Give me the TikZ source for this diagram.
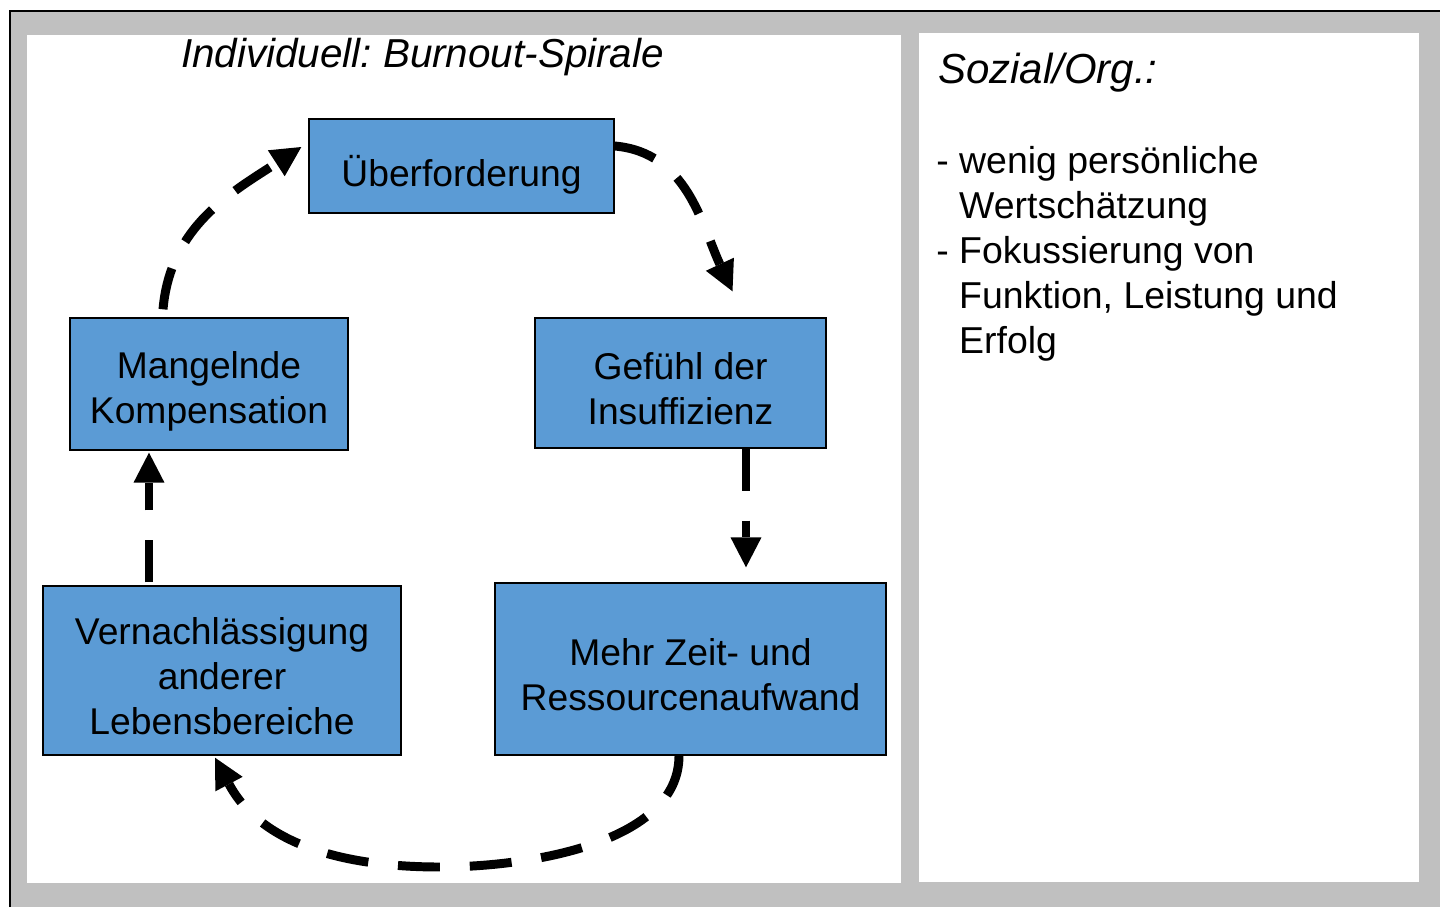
\documentclass[tikz,border=0pt]{standalone}
\usepackage{fontspec}
\setmainfont{Liberation Sans}
\usetikzlibrary{shapes, arrows.meta, positioning, calc}
\definecolor{boxblue}{HTML}{5B9BD5}
\definecolor{framegrey}{HTML}{C0C0C0}
\newcommand{\bstrut}{\rule[-2pt]{0pt}{25.6pt}}
\frenchspacing
\tikzstyle{stage} = [
    rectangle,
    draw=black,
    line width=0.8pt,
    fill=boxblue,
    inner sep=0pt,
    align=center,
    font=\fontsize{21.2}{25.6}\selectfont
]
\tikzstyle{cyclearrow} = [
    line width=5.1pt,
    dash pattern=on 23.9pt off 17pt,
    -{Triangle[width=17.6pt, length=17pt, line width=0pt]}
]
\begin{document}
\begin{tikzpicture}[x=0.02cm, y=0.02cm]
    \useasboundingbox (0,0) rectangle (1440,-907);
    % frame and panels
    \fill[framegrey] (10,-11) rectangle (1440,-907);
    \draw[line width=1.1pt] (10,-907) -- (10,-11) -- (1440,-11);
    \fill[white] (27,-35) rectangle (901,-883);
    \fill[white] (919,-33) rectangle (1419,-882);

    \node[anchor=base, font=\fontsize{23}{27}\selectfont\itshape] (title) at (422.5,-67) {Individuell: Burnout-Spirale};

    \node[stage, minimum width=6.1cm, minimum height=1.88cm] (ueber) at (461.5,-166) {\rule{0pt}{28pt}Überforderung};
    \node[stage, minimum width=5.82cm, minimum height=2.6cm] (gefuehl) at (680.5,-383) {\bstrut Gefühl der\\Insuffizienz\bstrut};
    \node[stage, minimum width=7.82cm, minimum height=3.44cm] (mehr) at (690.5,-669) {\bstrut Mehr Zeit- und\\Ressourcenaufwand\bstrut};
    \node[stage, minimum width=7.16cm, minimum height=3.38cm] (vernach) at (222,-670.5) {\bstrut Vernachlässigung\\anderer\\Lebensbereiche\bstrut};
    \node[stage, minimum width=5.56cm, minimum height=2.64cm] (mangel) at (209,-384) {\bstrut Mangelnde\\Kompensation};

    \coordinate (low) at (440,-867);
    \draw[cyclearrow] ($(ueber.east)+(0,20)$) to[out=-5, in=115] ($(gefuehl.north)+(52,26)$);
    \draw[cyclearrow] ($(gefuehl.south)+(65.5,0)$) -- ($(mehr.north)+(55.5,15)$);
    \draw[cyclearrow] ($(mehr.south)+(-11.5,0)$) to[out=-90, in=0, looseness=0.85] (low) to[out=180, in=-62] ($(vernach.south)+(-7,-2)$);
    \draw[cyclearrow] ($(vernach.north)+(-73,3)$) -- ($(mangel.south)+(-60,-2)$);
    \draw[cyclearrow] ($(mangel.north)+(-46,8)$) to[out=85, in=-147] ($(ueber.west)+(-7,19)$);

    % right panel
    \node[anchor=base west, font=\fontsize{23.9}{28}\selectfont\itshape] (sozial) at (932,-83) {Sozial/Org.:};
    \node[anchor=north west, inner sep=0pt, align=left, font=\fontsize{21.3}{25.6}\selectfont] (liste) at (936,-132)
        {\bstrut - wenig persönliche\\\hphantom{- }Wertschätzung\\- Fokussierung von\\\hphantom{- }Funktion, Leistung und\\\hphantom{- }Erfolg};
\end{tikzpicture}
\end{document}
